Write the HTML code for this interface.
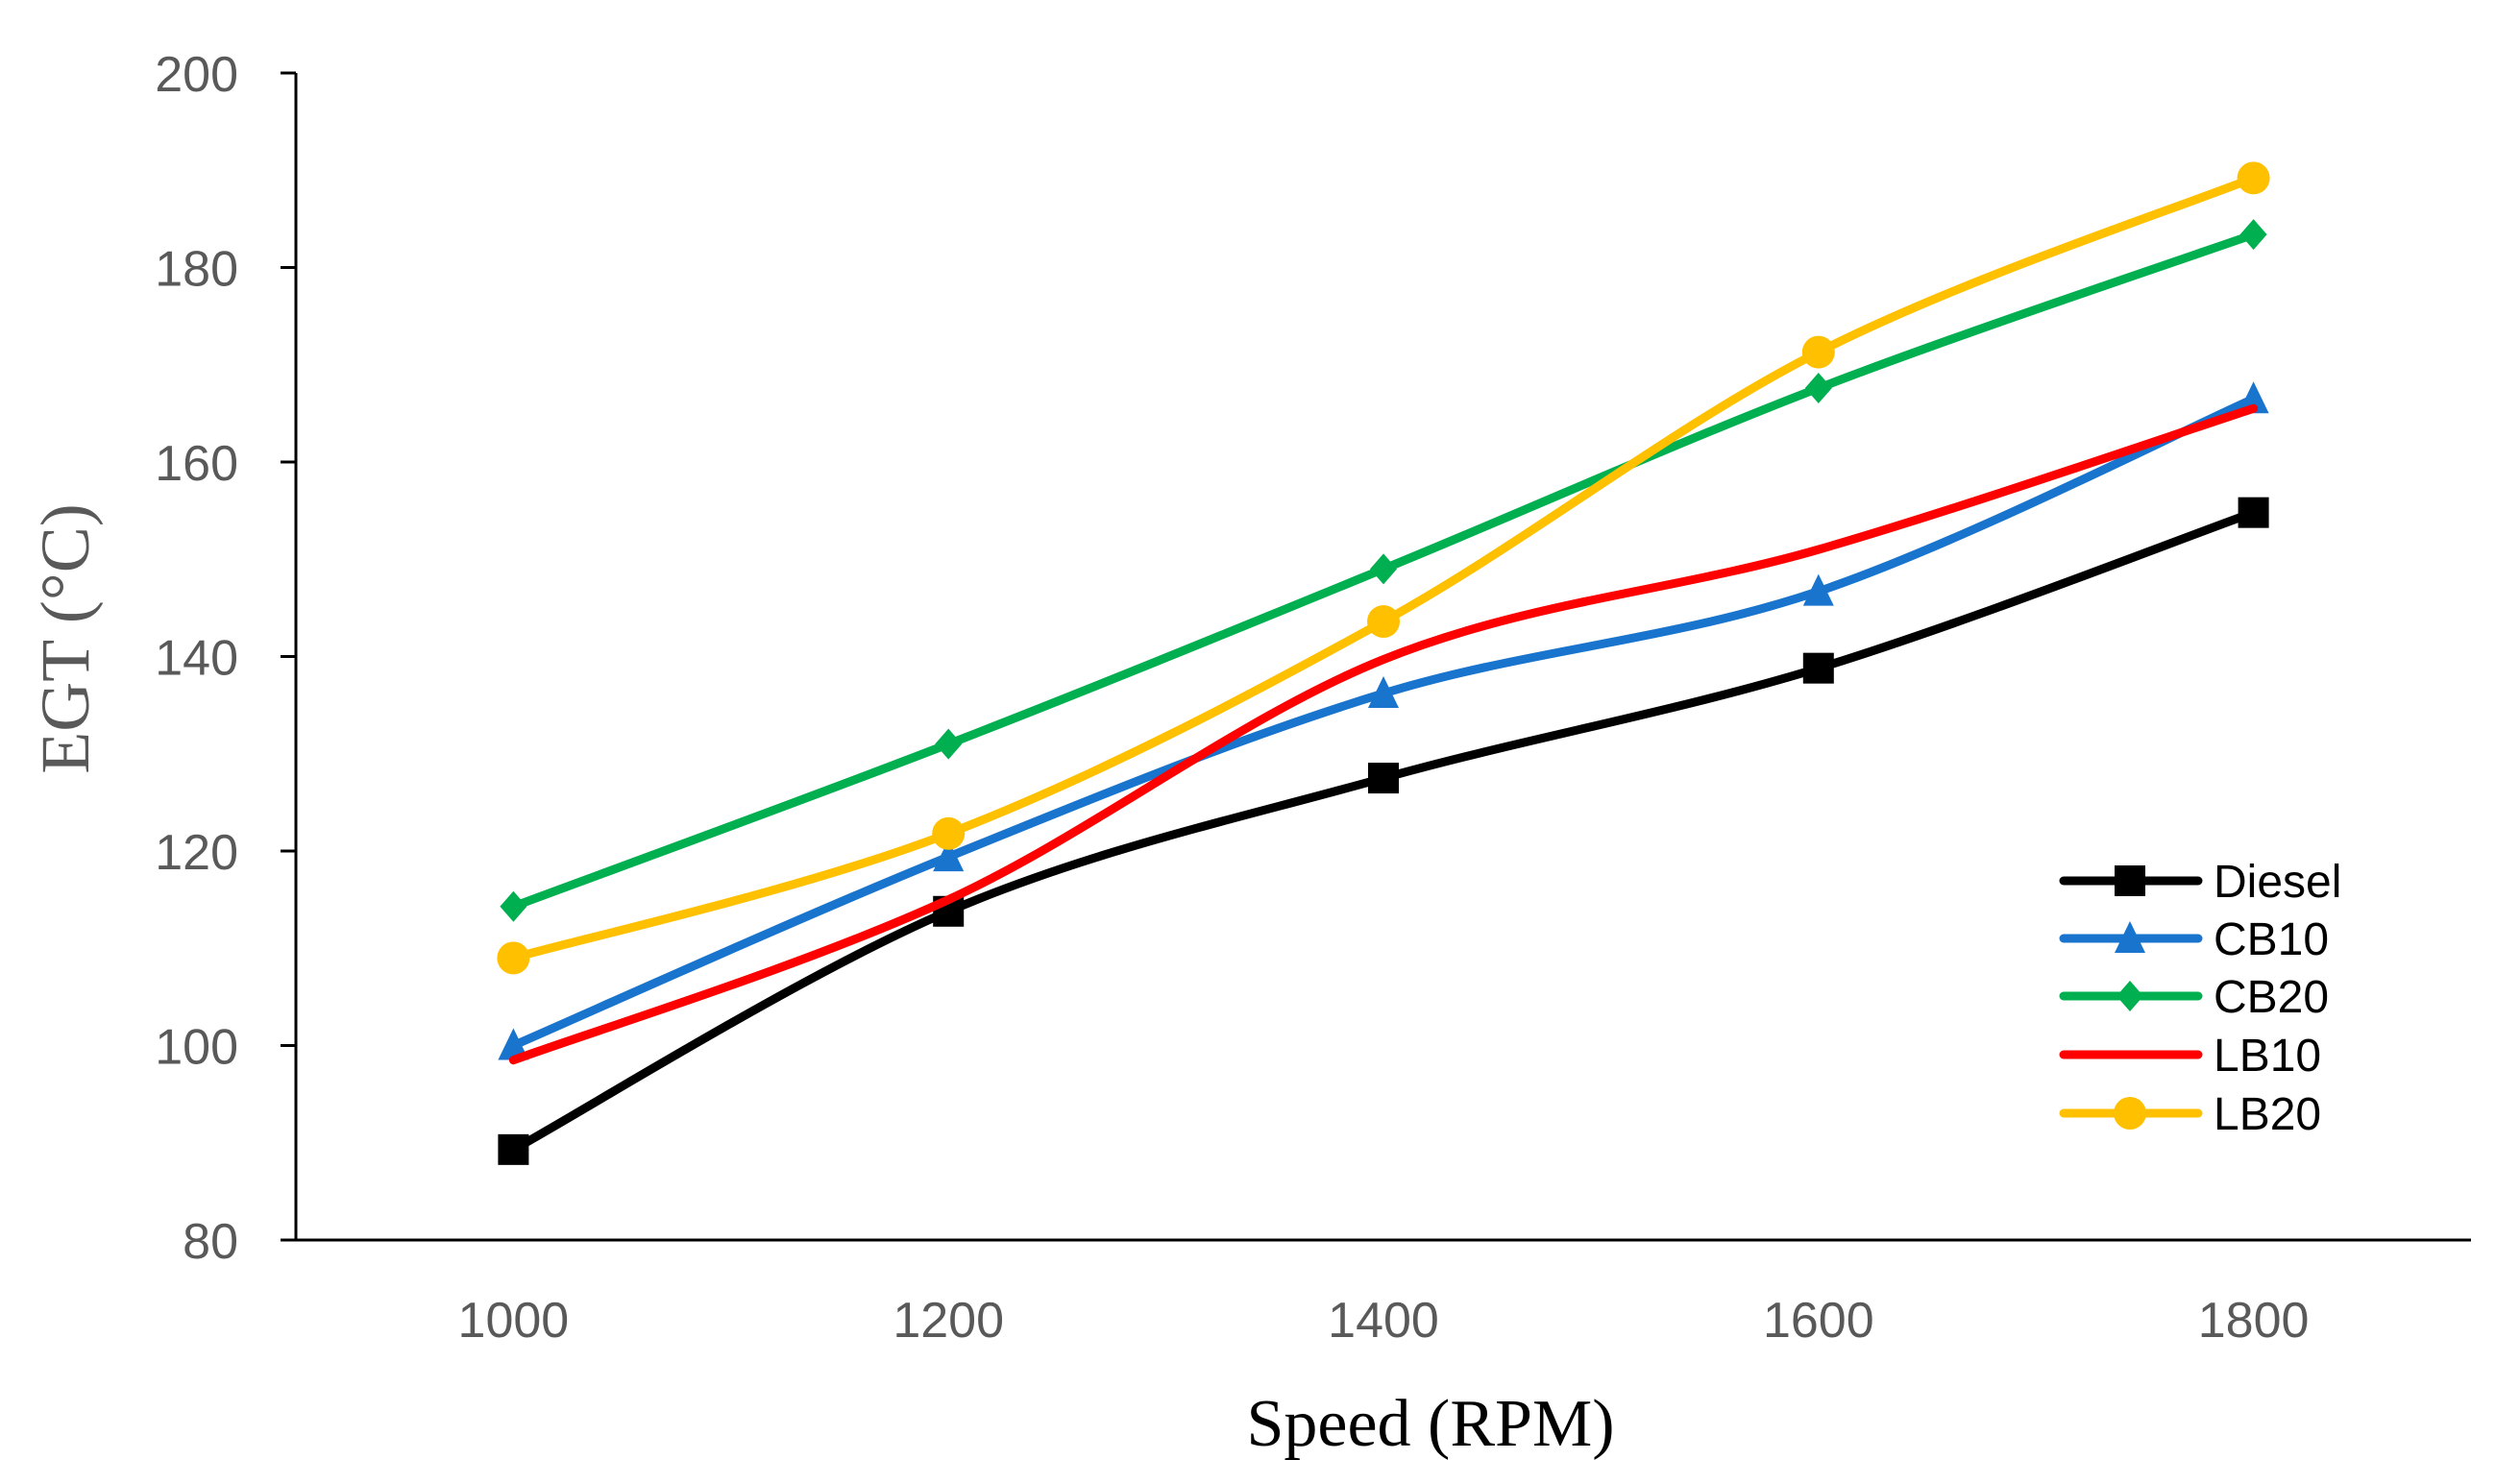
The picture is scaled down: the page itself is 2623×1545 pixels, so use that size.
<!DOCTYPE html>
<html><head><meta charset="utf-8"><style>
html,body{margin:0;padding:0;background:#fff;}
svg{display:block;}
</style></head><body>
<svg id="chart" width="2623" height="1545" viewBox="0 0 2623 1545" xmlns="http://www.w3.org/2000/svg">
<g id="axes"></g>
<g id="series"></g>
<g id="legend"></g>
<text transform="translate(92,665) rotate(-90)" text-anchor="middle" font-family="Liberation Serif, serif" font-size="72" fill="#595959">EGT (°C)</text>
<text x="1489" y="1505" text-anchor="middle" font-family="Liberation Serif, serif" font-size="70" fill="#000">Speed (RPM)</text>
</svg>
<script>
const categories = ["1000","1200","1400","1600","1800"];
const yTicks = [80,100,120,140,160,180,200];
const seriesNames = ["Diesel","CB10","CB20","LB10","LB20"];
const diesel = [89.3,113.8,127.5,138.8,154.8];
const cb10 = [100,119.4,136.2,146.7,166.5];
const cb20 = [114.3,131,149,167.6,183.4];
const lb10 = [98.5,115,139.7,151,165.5];
const lb20 = [109,121.8,143.6,171.3,189.2];

const NS="http://www.w3.org/2000/svg";
const X0=308,X1=2572,Y0=1291,Y1=76,YMIN=80,YMAX=200;
const xs=i=>X0+(X1-X0)/categories.length*(i+0.5);
const ys=v=>Y0-(v-YMIN)/(YMAX-YMIN)*(Y0-Y1);
function mk(tag,attrs,parent){const e=document.createElementNS(NS,tag);for(const k in attrs)e.setAttribute(k,attrs[k]);parent.appendChild(e);return e;}
const axes=document.getElementById('axes');
let yl=mk('line',{x1:X0,y1:Y1,x2:X0,y2:Y0,stroke:'#000','stroke-width':3},axes);


let xl=mk('line',{x1:X0-16,y1:Y0,x2:X1,y2:Y0,stroke:'#000','stroke-width':3},axes);


yTicks.forEach(t=>{
  const tk=mk('line',{x1:X0-16,y1:ys(t),x2:X0,y2:ys(t),stroke:'#000','stroke-width':3},axes);
  
  
  const tx=mk('text',{x:248,y:ys(t)+19,'text-anchor':'end','font-family':'Liberation Sans, sans-serif','font-size':52,fill:'#595959'},axes);
  tx.textContent=t;
  
  
});
categories.forEach((c,i)=>{
  const tx=mk('text',{x:xs(i),y:1392,'text-anchor':'middle','font-family':'Liberation Sans, sans-serif','font-size':52,fill:'#595959'},axes);
  tx.textContent=c;
  
  
});
const colors=["#000000","#1874CD","#00B050","#FF0000","#FFC000"];
const markers=["square","triangle","diamond","none","circle"];
const data=[diesel,cb10,cb20,lb10,lb20];
function marker(type,x,y,col,parent){
  let e=null;
  if(type==='square')e=mk('rect',{x:x-16,y:y-16,width:32,height:32,fill:col},parent);
  else if(type==='triangle')e=mk('polygon',{points:`${x},${y-18} ${x+16},${y+15} ${x-16},${y+15}`,fill:col},parent);
  else if(type==='diamond')e=mk('polygon',{points:`${x},${y-16} ${x+14},${y} ${x},${y+16} ${x-14},${y}`,fill:col},parent);
  else if(type==='circle')e=mk('circle',{cx:x,cy:y,r:17,fill:col},parent);
  return e;
}
function smooth(pts){
  let d=`M${pts[0][0]},${pts[0][1]}`;
  for(let i=0;i<pts.length-1;i++){
    const p0=pts[Math.max(0,i-1)],p1=pts[i],p2=pts[i+1],p3=pts[Math.min(pts.length-1,i+2)];
    const t=6;
    d+=` C${p1[0]+(p2[0]-p0[0])/t},${p1[1]+(p2[1]-p0[1])/t} ${p2[0]-(p3[0]-p1[0])/t},${p2[1]-(p3[1]-p1[1])/t} ${p2[0]},${p2[1]}`;
  }
  return d;
}
const sg=document.getElementById('series');
data.forEach((arr,s)=>{
  const g=mk('g',{},sg);
  
  
  const pts=arr.map((v,i)=>[xs(i),ys(v)]);
  const p=mk('path',{d:smooth(pts),fill:'none',stroke:colors[s],'stroke-width':9,'stroke-linecap':'round','stroke-linejoin':'round'},g);
  
  
  pts.forEach(pt=>{
    const m=marker(markers[s],pt[0],pt[1],colors[s],g);
    if(m){
      
      
    }
  });
});
const lg=document.getElementById('legend');
const legY=[917,977,1037,1098,1159];
seriesNames.forEach((n,s)=>{
  const g=mk('g',{},lg);
  
  
  mk('line',{x1:2148,y1:legY[s],x2:2288,y2:legY[s],stroke:colors[s],'stroke-width':9,'stroke-linecap':'round'},g);
  marker(markers[s],2217,legY[s],colors[s],g);
  const t=mk('text',{x:2304,y:legY[s]+17,'font-family':'Liberation Sans, sans-serif','font-size':48,fill:'#000'},g);
  t.textContent=n;
  
  
});
</script>
</body></html>
